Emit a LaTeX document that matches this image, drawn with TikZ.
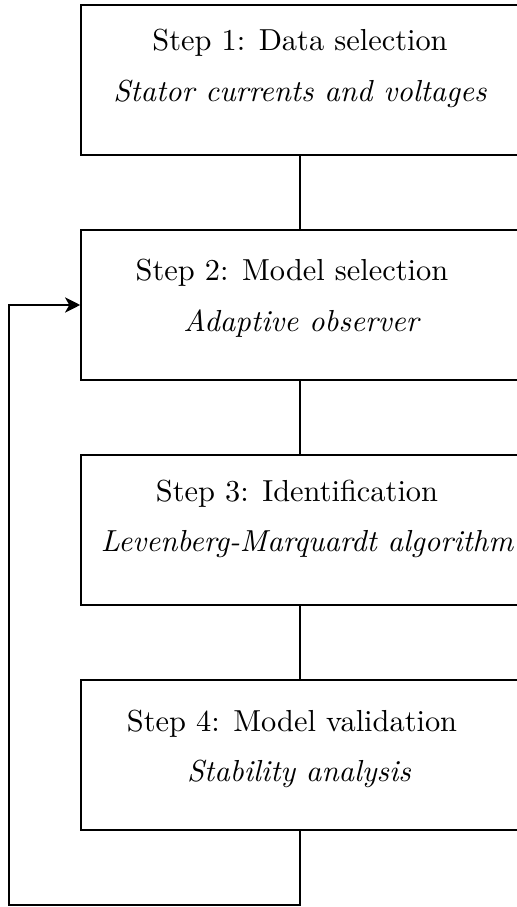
\documentclass[tikz,border=0pt]{standalone}
\usetikzlibrary{arrows.meta}
\begin{document}
\begin{tikzpicture}[x=0.329pt,y=-0.329pt,
  stepbox/.style={draw, line width=0.6pt, minimum width=144pt, minimum height=49.3pt, inner sep=0pt},
  conn/.style={draw, line width=0.6pt},
  steptext/.style={anchor=base, inner sep=0pt, font=\fontsize{10}{12}\selectfont},
  desctext/.style={anchor=base, inner sep=0pt, font=\fontsize{10}{12}\selectfont\itshape}]
\useasboundingbox (0,0) rectangle (516,907);
\node[stepbox] (b1) at (300,80) {};
\node[stepbox] (b2) at (300,305) {};
\node[stepbox] (b3) at (300,530) {};
\node[stepbox] (b4) at (300,755) {};
\node[steptext] (t1) at (300,50.7) {Step 1: Data selection};
\node[desctext] (d1) at (300,101.7) {Stator currents and voltages};
\node[steptext] (t2) at (292,280.7) {Step 2: Model selection};
\node[desctext] (d2) at (301,331.7) {Adaptive observer};
\node[steptext] (t3) at (297,501) {Step 3: Identification};
\node[desctext] (d3) at (307,551.7) {Levenberg-Marquardt algorithm};
\node[steptext] (t4) at (292,731.7) {Step 4: Model validation};
\node[desctext] (d4) at (299,781.7) {Stability analysis};
\draw[conn] (b1.south) -- (b2.north);
\draw[conn] (b2.south) -- (b3.north);
\draw[conn] (b3.south) -- (b4.north);
\coordinate (c1) at (9,905);
\draw[conn, -{Stealth[length=5pt,width=5pt,inset=1.4pt]}] (b4.south) |- (c1) |- (b2.west);
\end{tikzpicture}
\end{document}
